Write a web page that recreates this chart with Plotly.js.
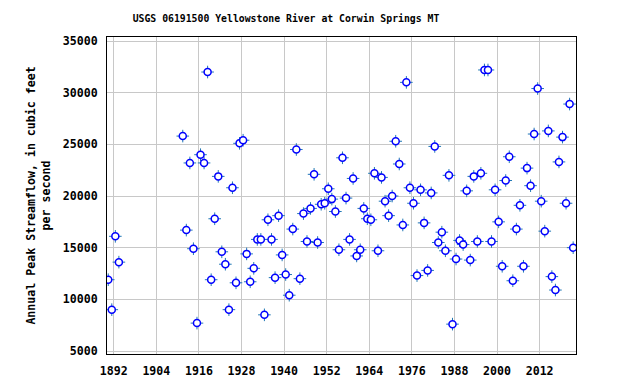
<!DOCTYPE html>
<html>
<head>
<meta charset="utf-8">
<script src="https://cdn.plot.ly/plotly-3.0.1.min.js"></script>
<style>html,body{margin:0;padding:0;background:#fff;}#chart{width:619px;height:382px;}</style>
</head>
<body>
<div id="chart"></div>
<script>
// Water years of the annual peaks
var years = [1890, 1891, 1892, 1893,
  1911, 1912, 1913, 1914, 1915, 1916, 1917, 1918, 1919, 1920,
  1921, 1922, 1923, 1924, 1925, 1926, 1927, 1928, 1929, 1930,
  1931, 1932, 1933, 1934, 1935, 1936, 1937, 1938, 1939, 1940,
  1941, 1942, 1943, 1944, 1945, 1946, 1947, 1948, 1949, 1950,
  1951, 1952, 1953, 1954, 1955, 1956, 1957, 1958, 1959, 1960,
  1961, 1962, 1963, 1964, 1965, 1966, 1967, 1968, 1969, 1970,
  1971, 1972, 1973, 1974, 1975, 1976, 1977, 1978, 1979, 1980,
  1981, 1982, 1983, 1984, 1985, 1986, 1987, 1988, 1989, 1990,
  1991, 1992, 1993, 1994, 1995, 1996, 1997, 1998, 1999, 2000,
  2001, 2002, 2003, 2004, 2005, 2006, 2007, 2008, 2009, 2010,
  2011, 2012, 2013, 2014, 2015, 2016, 2017, 2018, 2019, 2020,
  2021];
// Annual peak streamflow, cubic feet per second
var peakFlow = [11900, 9000, 16100, 13600,
  25800, 16700, 23200, 14900, 7700, 24000, 23200, 32000, 11900, 17800,
  21900, 14600, 13400, 9000, 20800, 11600, 25100, 25400, 14400, 11700,
  13000, 15800, 15800, 8500, 17700, 15800, 12100, 18100, 14300, 12400,
  10400, 16800, 24500, 12000, 18300, 15600, 18800, 22100, 15500, 19200,
  19300, 20700, 19700, 18500, 14800, 23700, 19800, 15800, 21700, 14200,
  14800, 18800, 17800, 17700, 22200, 14700, 21800, 19500, 18100, 20000,
  25300, 23100, 17200, 31000, 20800, 19300, 12300, 20600, 17400, 12800,
  20300, 24800, 15500, 16500, 14700, 22000, 7600, 13900, 15700, 15300,
  20500, 13800, 21900, 15600, 22200, 32200, 32200, 15600, 20600, 17500,
  13200, 21500, 23800, 11800, 16800, 19100, 13200, 22700, 21000, 26000,
  30400, 19500, 16600, 26300, 12200, 10900, 23300, 25700, 19300, 28900,
  15000];
var xTickVals = [1892, 1904, 1916, 1928, 1940, 1952, 1964, 1976, 1988, 2000, 2012];
var yTickVals = [5000, 10000, 15000, 20000, 25000, 30000, 35000];
var chartTitle = 'USGS 06191500 Yellowstone River at Corwin Springs MT';
var yTitle = 'Annual Peak Streamflow, in cubic feet<br>per second';

// peaks occur around mid-June, plotted at the date of the peak
var peakDates = years.map(function (y) { return y + 0.45; });

var mono = 'DejaVu Sans Mono, Liberation Mono, monospace';
var blue = '#0000FF';

var traces = [
  {x: peakDates, y: peakFlow, type: 'scatter', mode: 'markers', hoverinfo: 'skip',
   marker: {symbol: 'cross-thin-open', size: 9, line: {color: blue, width: 1}}},
  {x: peakDates, y: peakFlow, type: 'scatter', mode: 'markers',
   marker: {symbol: 'circle', size: 7, color: '#FFFFFF', line: {color: blue, width: 1.5}}}
];

var axisCommon = {
  showline: true, linecolor: '#000000', linewidth: 1, mirror: true,
  showgrid: true, gridcolor: '#C8C8C8', gridwidth: 1,
  zeroline: false, ticks: '',
  tickfont: {family: mono, size: 11.6, color: '#000000', weight: 'bold'}
};

var layout = {
  width: 619, height: 382,
  margin: {l: 107, r: 43, t: 37, b: 28, pad: 0},
  paper_bgcolor: '#FFFFFF', plot_bgcolor: '#FFFFFF',
  showlegend: false,
  title: {text: chartTitle, x: 286 / 619, xref: 'container', xanchor: 'center',
          y: 1 - 18.5 / 382, yref: 'container', yanchor: 'middle',
          font: {family: mono, size: 9.8, color: '#000000', weight: 'bold'}},
  xaxis: Object.assign({}, axisCommon, {
    range: [1890.1, 2022.25], tickmode: 'array', tickvals: xTickVals,
    ticktext: xTickVals.map(String), ticklabelstandoff: 6
  }),
  yaxis: Object.assign({}, axisCommon, {
    range: [4710, 35390], tickmode: 'array', tickvals: yTickVals,
    ticktext: yTickVals.map(String), ticklabelstandoff: 6,
    title: {text: yTitle, standoff: 9,
            font: {family: mono, size: 11.6, color: '#000000', weight: 'bold'}}
  })
};

Plotly.newPlot('chart', traces, layout, {displayModeBar: false, staticPlot: true});
</script>
</body>
</html>
